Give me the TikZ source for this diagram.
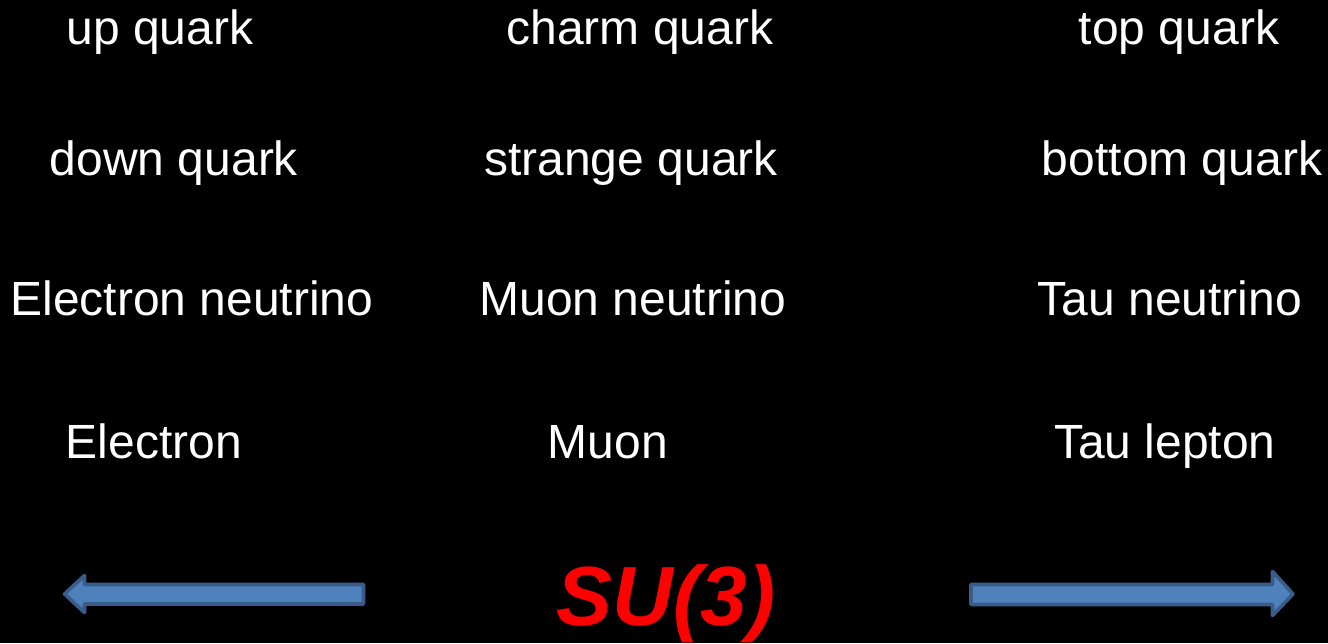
\documentclass[tikz,border=0pt]{standalone}
\usepackage{fontspec}
\setmainfont{Liberation Sans}
\definecolor{arrowfill}{HTML}{4F81BD}
\definecolor{arrowline}{HTML}{385D8A}
\definecolor{sured}{HTML}{FF0000}
\tikzset{
  particle/.style={white,inner sep=0pt,anchor=base,font=\fontsize{24}{28}\selectfont},
  bigarrow/.style={fill=arrowfill,draw=arrowline,line width=1.8pt,line join=round}
}
\begin{document}
\begin{tikzpicture}[x=0.5pt,y=-0.5pt]
\path[use as bounding box,fill=black] (0,0) rectangle (1328,643);
% first row
\node[particle] (up) at (160,44) {up quark};
\node[particle] (charm) at (640,44) {charm quark};
\node[particle] (top) at (1179,44) {top quark};
% second row
\node[particle] (down) at (174,175) {down quark};
\node[particle] (strange) at (631,175) {strange quark};
\node[particle] (bottom) at (1182,175) {bottom quark};
% neutrinos
\node[particle] (enu) at (192,315) {Electron neutrino};
\node[particle] (munu) at (633,315) {Muon neutrino};
\node[particle] (taunu) at (1170,315) {Tau neutrino};
% charged leptons
\node[particle] (elec) at (154,458) {Electron};
\node[particle] (muon) at (608,458) {Muon};
\node[particle] (tau) at (1165,458) {Tau lepton};
% group label and arrows
\node[sured,inner sep=0pt,anchor=base,font=\fontsize{42}{48}\selectfont\bfseries\itshape] (su) at (666,625) {SU(3)};
\draw[bigarrow] (64.5,594) -- (84.5,575.5) -- (84.5,584.5) -- (363.5,584.5) -- (363.5,604) -- (84.5,604) -- (84.5,612.5) -- cycle;
\draw[bigarrow] (1293,594) -- (1272.5,571.5) -- (1272.5,584.5) -- (971,584.5) -- (971,604.5) -- (1272.5,604.5) -- (1272.5,615.5) -- cycle;
\end{tikzpicture}
\end{document}
